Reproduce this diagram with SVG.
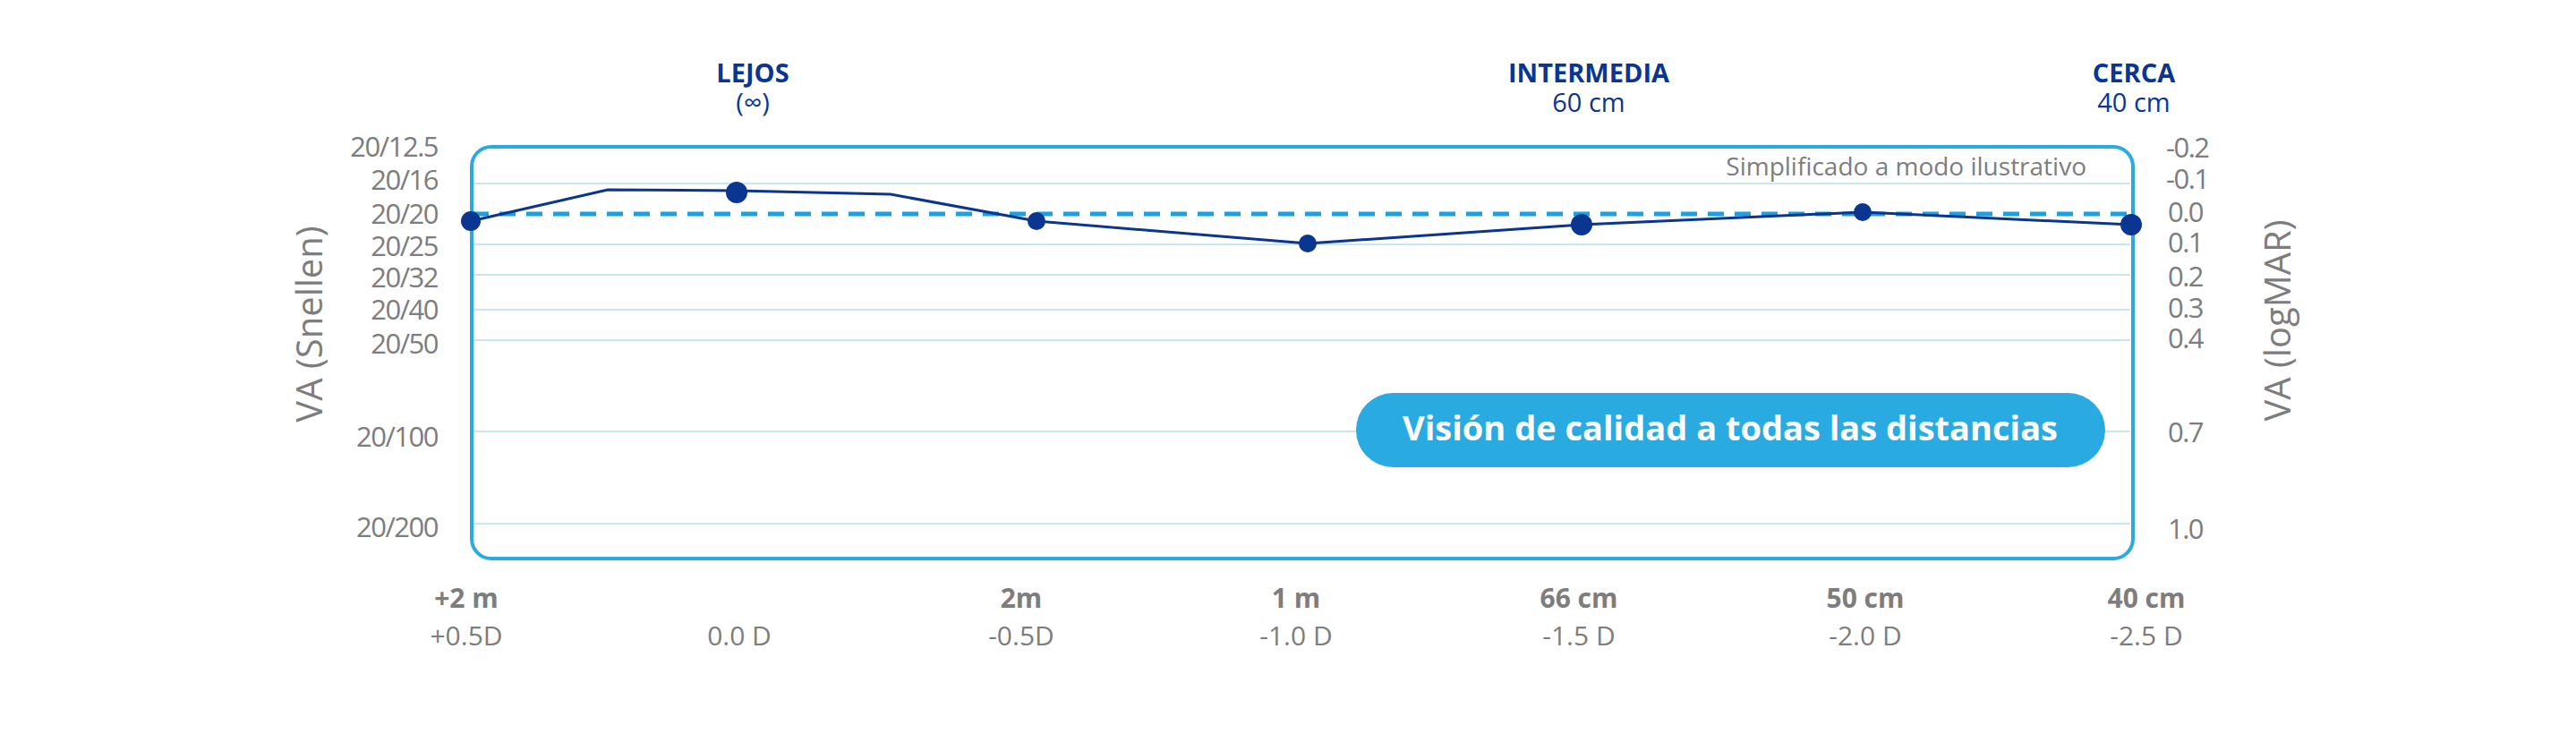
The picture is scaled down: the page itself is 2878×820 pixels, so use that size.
<svg xmlns="http://www.w3.org/2000/svg" width="2878" height="820" viewBox="0 0 2878 820">
<style>
.g{font-family:"Open Sans","Liberation Sans",sans-serif;fill:#7d7d7d;font-size:31px;letter-spacing:-1.5px}
.t{font-family:"Open Sans","Liberation Sans",sans-serif;fill:#0a3590;font-size:29px;text-anchor:middle}
.b{font-family:"Open Sans","Liberation Sans",sans-serif;fill:#7d7d7d;font-size:30px;text-anchor:middle}
.grid{stroke:#c8e7f6;stroke-width:2}
.dot{fill:#0a3590}
</style>
<rect width="2878" height="820" fill="#fff"/>
<g id="grid">
<line class="grid" x1="528" y1="205" x2="2380" y2="205"/>
<line class="grid" x1="528" y1="273" x2="2380" y2="273"/>
<line class="grid" x1="528" y1="307" x2="2380" y2="307"/>
<line class="grid" x1="528" y1="346" x2="2380" y2="346"/>
<line class="grid" x1="528" y1="380" x2="2380" y2="380"/>
<line class="grid" x1="528" y1="482" x2="2380" y2="482"/>
<line class="grid" x1="528" y1="585" x2="2380" y2="585"/>
</g>
<rect id="frame" x="527" y="164" width="1856" height="460" rx="22" fill="none" stroke="#29abe2" stroke-width="4"/>
<g id="left-axis" class="g" text-anchor="end">
<text x="489" y="175">20/12.5</text><text x="489" y="212">20/16</text><text x="489" y="250">20/20</text>
<text x="489" y="286">20/25</text><text x="489" y="321">20/32</text><text x="489" y="357">20/40</text>
<text x="489" y="395">20/50</text><text x="489" y="499">20/100</text><text x="489" y="600">20/200</text>
</g>
<g id="right-axis" class="g">
<text x="2420" y="176">-0.2</text><text x="2420" y="211">-0.1</text><text x="2422" y="248">0.0</text>
<text x="2422" y="282">0.1</text><text x="2422" y="320">0.2</text><text x="2422" y="355">0.3</text>
<text x="2422" y="389">0.4</text><text x="2422" y="494">0.7</text><text x="2422" y="602">1.0</text>
</g>
<text transform="translate(360,362) rotate(-90)" text-anchor="middle" style="font-family:'Open Sans','Liberation Sans',sans-serif;font-size:40px;fill:#7d7d7d">VA (Snellen)</text>
<text transform="translate(2559,358) rotate(-90)" text-anchor="middle" style="font-family:'Open Sans','Liberation Sans',sans-serif;font-size:40px;fill:#7d7d7d">VA (logMAR)</text>
<g id="top-labels">
<text class="t" x="841" y="92" font-weight="bold">LEJOS</text><text class="t" x="841" y="125">(∞)</text>
<text class="t" x="1775" y="92" font-weight="bold">INTERMEDIA</text><text class="t" x="1775" y="125">60 cm</text>
<text class="t" x="2384" y="92" font-weight="bold">CERCA</text><text class="t" x="2384" y="125">40 cm</text>
</g>
<text x="2331" y="196" text-anchor="end" style="font-family:'Open Sans','Liberation Sans',sans-serif;font-size:28px;fill:#7d7d7d">Simplificado a modo ilustrativo</text>
<g id="connectors">
<line x1="528" y1="239" x2="2382" y2="239" stroke="#1ba1e2" stroke-width="5" stroke-dasharray="18 12"/>
<polyline points="526,247 679,212 823,213 995,217 1158,247 1461,272 1767,251 2081,237 2381,251" fill="none" stroke="#0a3590" stroke-width="3"/>
</g>
<g id="points">
<circle class="dot" cx="526" cy="247" r="11"/>
<circle class="dot" cx="823" cy="215" r="12"/>
<circle class="dot" cx="1158" cy="247" r="10"/>
<circle class="dot" cx="1461" cy="272" r="10"/>
<circle class="dot" cx="1767" cy="251" r="12"/>
<circle class="dot" cx="2081" cy="237" r="10"/>
<circle class="dot" cx="2381" cy="251" r="12"/>
</g>
<g id="callout">
<rect x="1515" y="439" width="837" height="83" rx="41.5" fill="#29abe2"/>
<text x="1933" y="492" text-anchor="middle" style="font-family:'Open Sans','Liberation Sans',sans-serif;font-size:38px;font-weight:bold;fill:#fff">Visión de calidad a todas las distancias</text>
</g>
<g id="bottom-labels">
<text class="b" x="521" y="679" font-weight="bold">+2 m</text><text class="b" x="1141" y="679" font-weight="bold">2m</text>
<text class="b" x="1448" y="679" font-weight="bold">1 m</text><text class="b" x="1764" y="679" font-weight="bold">66 cm</text>
<text class="b" x="2084" y="679" font-weight="bold">50 cm</text><text class="b" x="2398" y="679" font-weight="bold">40 cm</text>
<text class="b" x="521" y="721">+0.5D</text><text class="b" x="826" y="721">0.0 D</text><text class="b" x="1141" y="721">-0.5D</text>
<text class="b" x="1448" y="721">-1.0 D</text><text class="b" x="1764" y="721">-1.5 D</text><text class="b" x="2084" y="721">-2.0 D</text><text class="b" x="2398" y="721">-2.5 D</text>
</g>
</svg>
